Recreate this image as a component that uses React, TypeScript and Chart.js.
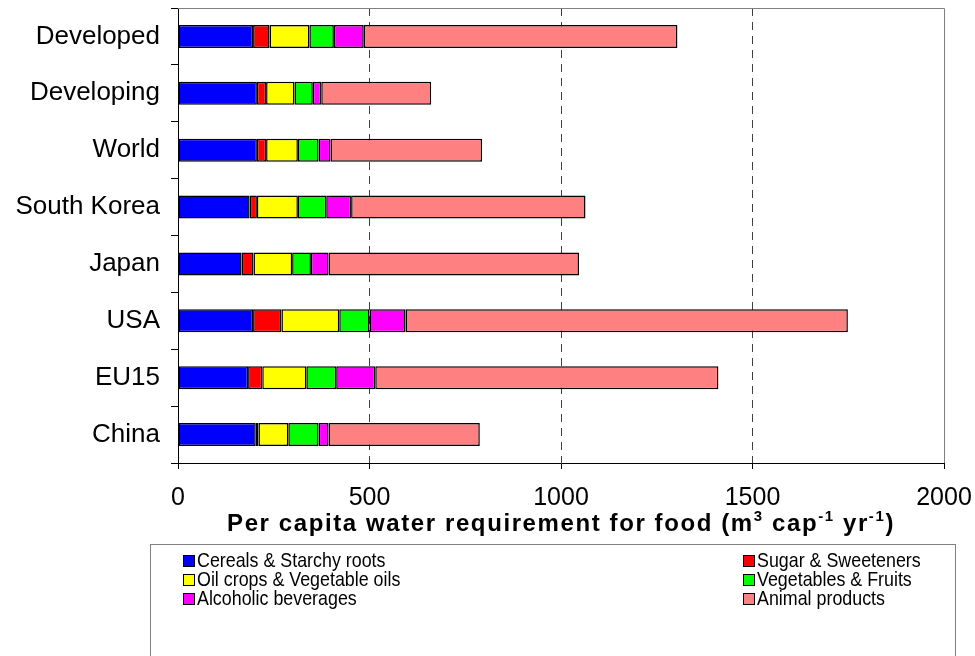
import React, { useEffect, useRef } from "react";
import { Chart, registerables } from "chart.js";

Chart.register(...registerables);

const FONT = "'Liberation Sans', Arial, sans-serif";

const categories = ["Developed", "Developing", "World", "South Korea", "Japan", "USA", "EU15", "China"];
const cereals = [196, 206, 206, 187, 166, 196, 183, 203];
const sugar = [43, 24, 24, 19, 31, 74, 37, 7];
const oilCrops = [104, 74, 83, 107, 101, 151, 115, 78];
const vegFruits = [64, 48, 54, 74, 49, 79, 78, 79];
const alcohol = [78, 22, 31, 65, 46, 94, 102, 26];
const animal = [819, 287, 396, 612, 654, 1155, 896, 395];

const seriesNames = [
  "Cereals & Starchy roots",
  "Sugar & Sweeteners",
  "Oil crops & Vegetable oils",
  "Vegetables & Fruits",
  "Alcoholic beverages",
  "Animal products",
];
const seriesColors = ["#0000FF", "#FF0000", "#FFFF00", "#00FF00", "#FF00FF", "#FF8080"];
const seriesValues = [cereals, sugar, oilCrops, vegFruits, alcohol, animal];
const xTicks = [0, 500, 1000, 1500, 2000];
const gridValues = [500, 1000, 1500];

const titleParts: { t: string; sup: boolean }[] = [
  { t: "Per capita water requirement for food (m", sup: false },
  { t: "3", sup: true },
  { t: " cap", sup: false },
  { t: "-1", sup: true },
  { t: " yr", sup: false },
  { t: "-1", sup: true },
  { t: ")", sup: false },
];

const decorPlugin = {
  id: "decor",
  afterDraw(chart: any) {
    const { ctx, chartArea: a } = chart;
    ctx.save();
    // frame top & right
    ctx.strokeStyle = "#808080";
    ctx.lineWidth = 1;
    ctx.beginPath();
    ctx.moveTo(a.left, Math.round(a.top) + 0.5);
    ctx.lineTo(Math.round(a.right) + 0.5, Math.round(a.top) + 0.5);
    ctx.lineTo(Math.round(a.right) + 0.5, a.bottom);
    ctx.stroke();

    // axis title with superscripts
    const mainFont = `bold 24px ${FONT}`;
    const supFont = `bold 15px ${FONT}`;
    (ctx as any).letterSpacing = "1.6px";
    let total = 0;
    for (const p of titleParts) {
      ctx.font = p.sup ? supFont : mainFont;
      total += ctx.measureText(p.t).width;
    }
    let x = (a.left + a.right) / 2 - total / 2;
    const baseY = a.bottom + 68;
    ctx.fillStyle = "#000";
    ctx.textBaseline = "alphabetic";
    ctx.textAlign = "left";
    for (const p of titleParts) {
      ctx.font = p.sup ? supFont : mainFont;
      ctx.fillText(p.t, x, p.sup ? baseY - 10 : baseY);
      x += ctx.measureText(p.t).width;
    }
    (ctx as any).letterSpacing = "0px";

    // legend box
    const boxTop = Math.round(a.bottom + 81) + 0.5;
    ctx.strokeStyle = "#808080";
    ctx.lineWidth = 1;
    ctx.strokeRect(150.5, boxTop, 805, 200);
    const colX = [197, 757];
    const rowY = [561, 580, 599];
    const sx = 0.85;
    ctx.textBaseline = "middle";
    chart.data.datasets.forEach((ds: any, i: number) => {
      const col = i % 2;
      const row = Math.floor(i / 2);
      const tx = colX[col];
      const ty = rowY[row];
      ctx.fillStyle = ds.backgroundColor;
      ctx.fillRect(tx - 13, ty - 5, 10, 10);
      ctx.strokeStyle = "#000";
      ctx.lineWidth = 1;
      ctx.strokeRect(tx - 13.5, ty - 5.5, 11, 11);
      ctx.save();
      ctx.translate(tx, ty);
      ctx.scale(sx, 1);
      ctx.font = `21px ${FONT}`;
      ctx.fillStyle = "#000";
      ctx.fillText(ds.label, 0, 0);
      ctx.restore();
    });
    ctx.restore();
  },
};

export default function App() {
  const canvasRef = useRef<HTMLCanvasElement | null>(null);

  useEffect(() => {
    document.body.style.margin = "0";
    const canvas = canvasRef.current;
    if (!canvas) return;
    const chart = new Chart(canvas, {
      type: "bar",
      data: {
        labels: categories,
        datasets: seriesNames.map((name, i) => ({
          label: name,
          data: seriesValues[i],
          backgroundColor: seriesColors[i],
          borderColor: "#000",
          borderWidth: 1.5,
          borderSkipped: false,
          barPercentage: 0.405,
          categoryPercentage: 1,
        })),
      },
      options: {
        indexAxis: "y",
        responsive: false,
        animation: false,
        layout: { padding: { top: 8, right: 31, left: 0, bottom: 73 } },
        plugins: {
          legend: { display: false },
          tooltip: { enabled: false },
          title: { display: false },
        },
        scales: {
          x: {
            stacked: true,
            min: 0,
            max: 2000,
            afterBuildTicks: (s: any) => {
              s.ticks = xTicks.map((v) => ({ value: v }));
            },
            afterFit: (s: any) => {
              s.height = 120;
              s.paddingLeft = 0;
              s.paddingRight = 0;
            },
            grid: {
              color: (c: any) => (gridValues.includes(c.tick?.value) ? "#404040" : "rgba(0,0,0,0)"),
              lineWidth: 1,
              tickLength: 6,
              tickColor: "#000",
              drawOnChartArea: true,
            },
            border: { color: "#000", width: 1, dash: [8, 6] },
            ticks: {
              font: { size: 25, family: FONT },
              color: "#000",
              padding: 14,
              maxRotation: 0,
              autoSkip: false,
              callback: (v: any) => String(v),
            },
          },
          y: {
            stacked: true,
            afterFit: (s: any) => {
              s.width = 178;
              s.paddingTop = 0;
              s.paddingBottom = 0;
            },
            grid: {
              drawOnChartArea: false,
              tickLength: 7,
              tickColor: "#000",
              offset: true,
            },
            border: { color: "#000", width: 1 },
            ticks: {
              font: { size: 26, family: FONT },
              color: "#000",
              padding: 11,
              autoSkip: false,
            },
          },
        },
      } as any,
      plugins: [decorPlugin],
    });
    return () => chart.destroy();
  }, []);

  return (
    <div style={{ position: "relative", width: 975, height: 656, background: "#fff" }}>
      <canvas ref={canvasRef} width={975} height={656} style={{ display: "block" }} />
    </div>
  );
}
